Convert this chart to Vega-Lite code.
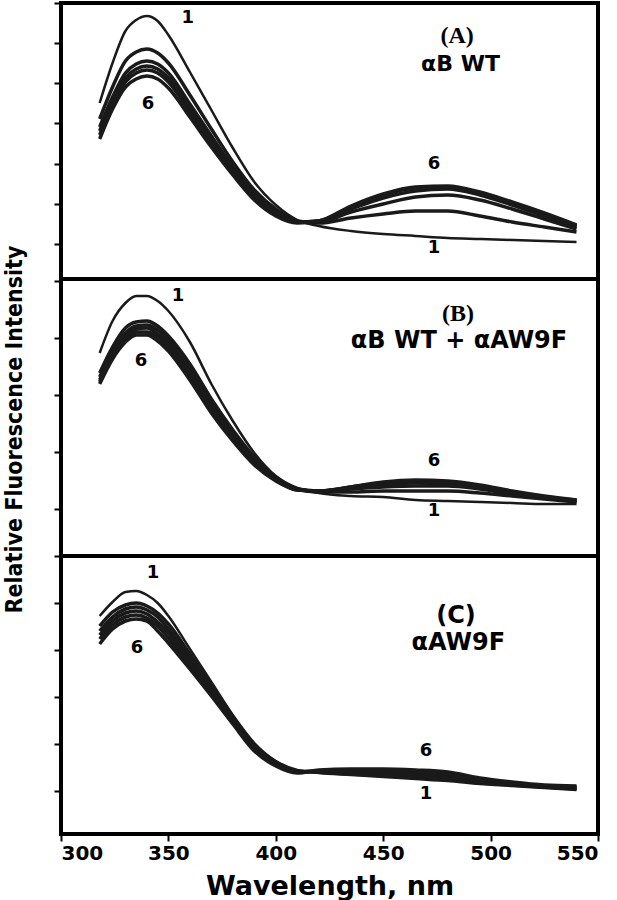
{
"$schema":"https://vega.github.io/schema/vega-lite/v6.json",
"padding":{"left":0,"top":0,"right":0,"bottom":0},
"background":"white",
"spacing":0,
"bounds":"flush",
"config":{"view":{"stroke":"black","strokeWidth":4},"axis":{"domain":false,"grid":false,"tickColor":"black","tickWidth":2,"tickSize":7}},
"datasets":{
"spectra":[
{"p":"A","c":1,"w":318,"v":176},{"p":"A","c":1,"w":324,"v":216},{"p":"A","c":1,"w":330,"v":248},{"p":"A","c":1,"w":335,"v":259},{"p":"A","c":1,"w":340,"v":263},{"p":"A","c":1,"w":345,"v":258},{"p":"A","c":1,"w":350,"v":244},{"p":"A","c":1,"w":360,"v":207},{"p":"A","c":1,"w":370,"v":169},{"p":"A","c":1,"w":380,"v":131},{"p":"A","c":1,"w":390,"v":97},{"p":"A","c":1,"w":400,"v":74},{"p":"A","c":1,"w":410,"v":59},{"p":"A","c":1,"w":420,"v":53},{"p":"A","c":1,"w":435,"v":48},{"p":"A","c":1,"w":450,"v":45},{"p":"A","c":1,"w":465,"v":43},{"p":"A","c":1,"w":480,"v":41},{"p":"A","c":1,"w":495,"v":40},{"p":"A","c":1,"w":510,"v":39},{"p":"A","c":1,"w":525,"v":38},{"p":"A","c":1,"w":540,"v":37},
{"p":"A","c":2,"w":318,"v":160},{"p":"A","c":2,"w":324,"v":192},{"p":"A","c":2,"w":330,"v":218},{"p":"A","c":2,"w":335,"v":227},{"p":"A","c":2,"w":340,"v":230},{"p":"A","c":2,"w":345,"v":226},{"p":"A","c":2,"w":350,"v":216},{"p":"A","c":2,"w":360,"v":184},{"p":"A","c":2,"w":370,"v":150},{"p":"A","c":2,"w":380,"v":117},{"p":"A","c":2,"w":390,"v":89},{"p":"A","c":2,"w":400,"v":70},{"p":"A","c":2,"w":410,"v":58},{"p":"A","c":2,"w":420,"v":56},{"p":"A","c":2,"w":435,"v":61},{"p":"A","c":2,"w":450,"v":65},{"p":"A","c":2,"w":465,"v":68},{"p":"A","c":2,"w":480,"v":68},{"p":"A","c":2,"w":495,"v":63},{"p":"A","c":2,"w":510,"v":57},{"p":"A","c":2,"w":525,"v":52},{"p":"A","c":2,"w":540,"v":47},
{"p":"A","c":3,"w":318,"v":152},{"p":"A","c":3,"w":324,"v":182},{"p":"A","c":3,"w":330,"v":206},{"p":"A","c":3,"w":335,"v":215},{"p":"A","c":3,"w":340,"v":218},{"p":"A","c":3,"w":345,"v":215},{"p":"A","c":3,"w":350,"v":206},{"p":"A","c":3,"w":360,"v":175},{"p":"A","c":3,"w":370,"v":143},{"p":"A","c":3,"w":380,"v":112},{"p":"A","c":3,"w":390,"v":85},{"p":"A","c":3,"w":400,"v":67},{"p":"A","c":3,"w":410,"v":57},{"p":"A","c":3,"w":420,"v":57},{"p":"A","c":3,"w":435,"v":67},{"p":"A","c":3,"w":450,"v":75},{"p":"A","c":3,"w":465,"v":82},{"p":"A","c":3,"w":480,"v":84},{"p":"A","c":3,"w":495,"v":79},{"p":"A","c":3,"w":510,"v":70},{"p":"A","c":3,"w":525,"v":60},{"p":"A","c":3,"w":540,"v":50},
{"p":"A","c":4,"w":318,"v":148},{"p":"A","c":4,"w":324,"v":178},{"p":"A","c":4,"w":330,"v":201},{"p":"A","c":4,"w":335,"v":210},{"p":"A","c":4,"w":340,"v":213},{"p":"A","c":4,"w":345,"v":210},{"p":"A","c":4,"w":350,"v":201},{"p":"A","c":4,"w":360,"v":171},{"p":"A","c":4,"w":370,"v":139},{"p":"A","c":4,"w":380,"v":109},{"p":"A","c":4,"w":390,"v":83},{"p":"A","c":4,"w":400,"v":66},{"p":"A","c":4,"w":410,"v":57},{"p":"A","c":4,"w":420,"v":58},{"p":"A","c":4,"w":435,"v":70},{"p":"A","c":4,"w":450,"v":81},{"p":"A","c":4,"w":465,"v":88},{"p":"A","c":4,"w":480,"v":90},{"p":"A","c":4,"w":495,"v":84},{"p":"A","c":4,"w":510,"v":74},{"p":"A","c":4,"w":525,"v":63},{"p":"A","c":4,"w":540,"v":52},
{"p":"A","c":5,"w":318,"v":144},{"p":"A","c":5,"w":324,"v":174},{"p":"A","c":5,"w":330,"v":197},{"p":"A","c":5,"w":335,"v":206},{"p":"A","c":5,"w":340,"v":209},{"p":"A","c":5,"w":345,"v":206},{"p":"A","c":5,"w":350,"v":197},{"p":"A","c":5,"w":360,"v":167},{"p":"A","c":5,"w":370,"v":136},{"p":"A","c":5,"w":380,"v":107},{"p":"A","c":5,"w":390,"v":81},{"p":"A","c":5,"w":400,"v":65},{"p":"A","c":5,"w":410,"v":57},{"p":"A","c":5,"w":420,"v":58},{"p":"A","c":5,"w":435,"v":72},{"p":"A","c":5,"w":450,"v":84},{"p":"A","c":5,"w":465,"v":91},{"p":"A","c":5,"w":480,"v":92},{"p":"A","c":5,"w":495,"v":86},{"p":"A","c":5,"w":510,"v":76},{"p":"A","c":5,"w":525,"v":65},{"p":"A","c":5,"w":540,"v":53},
{"p":"A","c":6,"w":318,"v":140},{"p":"A","c":6,"w":324,"v":170},{"p":"A","c":6,"w":330,"v":192},{"p":"A","c":6,"w":335,"v":200},{"p":"A","c":6,"w":340,"v":203},{"p":"A","c":6,"w":345,"v":200},{"p":"A","c":6,"w":350,"v":191},{"p":"A","c":6,"w":360,"v":162},{"p":"A","c":6,"w":370,"v":132},{"p":"A","c":6,"w":380,"v":104},{"p":"A","c":6,"w":390,"v":79},{"p":"A","c":6,"w":400,"v":63},{"p":"A","c":6,"w":410,"v":56},{"p":"A","c":6,"w":420,"v":58},{"p":"A","c":6,"w":435,"v":73},{"p":"A","c":6,"w":450,"v":85},{"p":"A","c":6,"w":465,"v":92},{"p":"A","c":6,"w":480,"v":93},{"p":"A","c":6,"w":495,"v":87},{"p":"A","c":6,"w":510,"v":77},{"p":"A","c":6,"w":525,"v":66},{"p":"A","c":6,"w":540,"v":54},
{"p":"B","c":1,"w":318,"v":201},{"p":"B","c":1,"w":324,"v":233},{"p":"B","c":1,"w":330,"v":251},{"p":"B","c":1,"w":335,"v":258},{"p":"B","c":1,"w":340,"v":258},{"p":"B","c":1,"w":345,"v":253},{"p":"B","c":1,"w":350,"v":243},{"p":"B","c":1,"w":360,"v":212},{"p":"B","c":1,"w":370,"v":170},{"p":"B","c":1,"w":380,"v":133},{"p":"B","c":1,"w":390,"v":101},{"p":"B","c":1,"w":400,"v":78},{"p":"B","c":1,"w":410,"v":66},{"p":"B","c":1,"w":420,"v":61},{"p":"B","c":1,"w":435,"v":58},{"p":"B","c":1,"w":450,"v":57},{"p":"B","c":1,"w":465,"v":54},{"p":"B","c":1,"w":480,"v":53},{"p":"B","c":1,"w":495,"v":52},{"p":"B","c":1,"w":510,"v":51},{"p":"B","c":1,"w":525,"v":50},{"p":"B","c":1,"w":540,"v":50},
{"p":"B","c":2,"w":318,"v":181},{"p":"B","c":2,"w":324,"v":207},{"p":"B","c":2,"w":330,"v":226},{"p":"B","c":2,"w":335,"v":232},{"p":"B","c":2,"w":340,"v":233},{"p":"B","c":2,"w":345,"v":228},{"p":"B","c":2,"w":350,"v":218},{"p":"B","c":2,"w":360,"v":190},{"p":"B","c":2,"w":370,"v":155},{"p":"B","c":2,"w":380,"v":124},{"p":"B","c":2,"w":390,"v":97},{"p":"B","c":2,"w":400,"v":77},{"p":"B","c":2,"w":410,"v":65},{"p":"B","c":2,"w":420,"v":62},{"p":"B","c":2,"w":435,"v":62},{"p":"B","c":2,"w":450,"v":63},{"p":"B","c":2,"w":465,"v":63},{"p":"B","c":2,"w":480,"v":63},{"p":"B","c":2,"w":495,"v":61},{"p":"B","c":2,"w":510,"v":58},{"p":"B","c":2,"w":525,"v":55},{"p":"B","c":2,"w":540,"v":52},
{"p":"B","c":3,"w":318,"v":177},{"p":"B","c":3,"w":324,"v":203},{"p":"B","c":3,"w":330,"v":221},{"p":"B","c":3,"w":335,"v":228},{"p":"B","c":3,"w":340,"v":229},{"p":"B","c":3,"w":345,"v":224},{"p":"B","c":3,"w":350,"v":214},{"p":"B","c":3,"w":360,"v":185},{"p":"B","c":3,"w":370,"v":151},{"p":"B","c":3,"w":380,"v":121},{"p":"B","c":3,"w":390,"v":95},{"p":"B","c":3,"w":400,"v":76},{"p":"B","c":3,"w":410,"v":65},{"p":"B","c":3,"w":420,"v":63},{"p":"B","c":3,"w":435,"v":65},{"p":"B","c":3,"w":450,"v":67},{"p":"B","c":3,"w":465,"v":68},{"p":"B","c":3,"w":480,"v":68},{"p":"B","c":3,"w":495,"v":65},{"p":"B","c":3,"w":510,"v":60},{"p":"B","c":3,"w":525,"v":56},{"p":"B","c":3,"w":540,"v":53},
{"p":"B","c":4,"w":318,"v":174},{"p":"B","c":4,"w":324,"v":200},{"p":"B","c":4,"w":330,"v":218},{"p":"B","c":4,"w":335,"v":225},{"p":"B","c":4,"w":340,"v":226},{"p":"B","c":4,"w":345,"v":220},{"p":"B","c":4,"w":350,"v":210},{"p":"B","c":4,"w":360,"v":182},{"p":"B","c":4,"w":370,"v":148},{"p":"B","c":4,"w":380,"v":118},{"p":"B","c":4,"w":390,"v":93},{"p":"B","c":4,"w":400,"v":75},{"p":"B","c":4,"w":410,"v":65},{"p":"B","c":4,"w":420,"v":63},{"p":"B","c":4,"w":435,"v":66},{"p":"B","c":4,"w":450,"v":69},{"p":"B","c":4,"w":465,"v":71},{"p":"B","c":4,"w":480,"v":70},{"p":"B","c":4,"w":495,"v":67},{"p":"B","c":4,"w":510,"v":61},{"p":"B","c":4,"w":525,"v":57},{"p":"B","c":4,"w":540,"v":53},
{"p":"B","c":5,"w":318,"v":172},{"p":"B","c":5,"w":324,"v":198},{"p":"B","c":5,"w":330,"v":215},{"p":"B","c":5,"w":335,"v":222},{"p":"B","c":5,"w":340,"v":222},{"p":"B","c":5,"w":345,"v":217},{"p":"B","c":5,"w":350,"v":207},{"p":"B","c":5,"w":360,"v":178},{"p":"B","c":5,"w":370,"v":145},{"p":"B","c":5,"w":380,"v":116},{"p":"B","c":5,"w":390,"v":91},{"p":"B","c":5,"w":400,"v":74},{"p":"B","c":5,"w":410,"v":64},{"p":"B","c":5,"w":420,"v":63},{"p":"B","c":5,"w":435,"v":67},{"p":"B","c":5,"w":450,"v":71},{"p":"B","c":5,"w":465,"v":73},{"p":"B","c":5,"w":480,"v":72},{"p":"B","c":5,"w":495,"v":68},{"p":"B","c":5,"w":510,"v":62},{"p":"B","c":5,"w":525,"v":57},{"p":"B","c":5,"w":540,"v":54},
{"p":"B","c":6,"w":318,"v":170},{"p":"B","c":6,"w":324,"v":195},{"p":"B","c":6,"w":330,"v":212},{"p":"B","c":6,"w":335,"v":219},{"p":"B","c":6,"w":340,"v":219},{"p":"B","c":6,"w":345,"v":213},{"p":"B","c":6,"w":350,"v":203},{"p":"B","c":6,"w":360,"v":174},{"p":"B","c":6,"w":370,"v":141},{"p":"B","c":6,"w":380,"v":113},{"p":"B","c":6,"w":390,"v":89},{"p":"B","c":6,"w":400,"v":73},{"p":"B","c":6,"w":410,"v":64},{"p":"B","c":6,"w":420,"v":63},{"p":"B","c":6,"w":435,"v":67},{"p":"B","c":6,"w":450,"v":72},{"p":"B","c":6,"w":465,"v":74},{"p":"B","c":6,"w":480,"v":73},{"p":"B","c":6,"w":495,"v":69},{"p":"B","c":6,"w":510,"v":63},{"p":"B","c":6,"w":525,"v":58},{"p":"B","c":6,"w":540,"v":54},
{"p":"C","c":1,"w":318,"v":218},{"p":"C","c":1,"w":324,"v":232},{"p":"C","c":1,"w":330,"v":242},{"p":"C","c":1,"w":335,"v":243},{"p":"C","c":1,"w":340,"v":239},{"p":"C","c":1,"w":345,"v":231},{"p":"C","c":1,"w":350,"v":218},{"p":"C","c":1,"w":360,"v":185},{"p":"C","c":1,"w":370,"v":152},{"p":"C","c":1,"w":380,"v":119},{"p":"C","c":1,"w":390,"v":91},{"p":"C","c":1,"w":400,"v":73},{"p":"C","c":1,"w":410,"v":64},{"p":"C","c":1,"w":420,"v":61},{"p":"C","c":1,"w":435,"v":59},{"p":"C","c":1,"w":450,"v":57},{"p":"C","c":1,"w":465,"v":55},{"p":"C","c":1,"w":480,"v":53},{"p":"C","c":1,"w":495,"v":50},{"p":"C","c":1,"w":510,"v":48},{"p":"C","c":1,"w":525,"v":46},{"p":"C","c":1,"w":540,"v":44},
{"p":"C","c":2,"w":318,"v":208},{"p":"C","c":2,"w":324,"v":222},{"p":"C","c":2,"w":330,"v":229},{"p":"C","c":2,"w":335,"v":231},{"p":"C","c":2,"w":340,"v":228},{"p":"C","c":2,"w":345,"v":221},{"p":"C","c":2,"w":350,"v":210},{"p":"C","c":2,"w":360,"v":180},{"p":"C","c":2,"w":370,"v":148},{"p":"C","c":2,"w":380,"v":117},{"p":"C","c":2,"w":390,"v":89},{"p":"C","c":2,"w":400,"v":72},{"p":"C","c":2,"w":410,"v":63},{"p":"C","c":2,"w":420,"v":62},{"p":"C","c":2,"w":435,"v":60},{"p":"C","c":2,"w":450,"v":59},{"p":"C","c":2,"w":465,"v":57},{"p":"C","c":2,"w":480,"v":55},{"p":"C","c":2,"w":495,"v":51},{"p":"C","c":2,"w":510,"v":49},{"p":"C","c":2,"w":525,"v":47},{"p":"C","c":2,"w":540,"v":45},
{"p":"C","c":3,"w":318,"v":203},{"p":"C","c":3,"w":324,"v":217},{"p":"C","c":3,"w":330,"v":225},{"p":"C","c":3,"w":335,"v":227},{"p":"C","c":3,"w":340,"v":224},{"p":"C","c":3,"w":345,"v":217},{"p":"C","c":3,"w":350,"v":205},{"p":"C","c":3,"w":360,"v":176},{"p":"C","c":3,"w":370,"v":145},{"p":"C","c":3,"w":380,"v":115},{"p":"C","c":3,"w":390,"v":88},{"p":"C","c":3,"w":400,"v":71},{"p":"C","c":3,"w":410,"v":63},{"p":"C","c":3,"w":420,"v":62},{"p":"C","c":3,"w":435,"v":61},{"p":"C","c":3,"w":450,"v":60},{"p":"C","c":3,"w":465,"v":58},{"p":"C","c":3,"w":480,"v":57},{"p":"C","c":3,"w":495,"v":52},{"p":"C","c":3,"w":510,"v":50},{"p":"C","c":3,"w":525,"v":47},{"p":"C","c":3,"w":540,"v":46},
{"p":"C","c":4,"w":318,"v":199},{"p":"C","c":4,"w":324,"v":213},{"p":"C","c":4,"w":330,"v":221},{"p":"C","c":4,"w":335,"v":223},{"p":"C","c":4,"w":340,"v":220},{"p":"C","c":4,"w":345,"v":212},{"p":"C","c":4,"w":350,"v":201},{"p":"C","c":4,"w":360,"v":172},{"p":"C","c":4,"w":370,"v":143},{"p":"C","c":4,"w":380,"v":113},{"p":"C","c":4,"w":390,"v":86},{"p":"C","c":4,"w":400,"v":70},{"p":"C","c":4,"w":410,"v":62},{"p":"C","c":4,"w":420,"v":63},{"p":"C","c":4,"w":435,"v":62},{"p":"C","c":4,"w":450,"v":62},{"p":"C","c":4,"w":465,"v":60},{"p":"C","c":4,"w":480,"v":59},{"p":"C","c":4,"w":495,"v":54},{"p":"C","c":4,"w":510,"v":51},{"p":"C","c":4,"w":525,"v":48},{"p":"C","c":4,"w":540,"v":46},
{"p":"C","c":5,"w":318,"v":195},{"p":"C","c":5,"w":324,"v":209},{"p":"C","c":5,"w":330,"v":217},{"p":"C","c":5,"w":335,"v":219},{"p":"C","c":5,"w":340,"v":216},{"p":"C","c":5,"w":345,"v":208},{"p":"C","c":5,"w":350,"v":196},{"p":"C","c":5,"w":360,"v":169},{"p":"C","c":5,"w":370,"v":140},{"p":"C","c":5,"w":380,"v":112},{"p":"C","c":5,"w":390,"v":85},{"p":"C","c":5,"w":400,"v":69},{"p":"C","c":5,"w":410,"v":62},{"p":"C","c":5,"w":420,"v":63},{"p":"C","c":5,"w":435,"v":63},{"p":"C","c":5,"w":450,"v":63},{"p":"C","c":5,"w":465,"v":62},{"p":"C","c":5,"w":480,"v":60},{"p":"C","c":5,"w":495,"v":55},{"p":"C","c":5,"w":510,"v":51},{"p":"C","c":5,"w":525,"v":48},{"p":"C","c":5,"w":540,"v":47},
{"p":"C","c":6,"w":318,"v":190},{"p":"C","c":6,"w":324,"v":205},{"p":"C","c":6,"w":330,"v":213},{"p":"C","c":6,"w":335,"v":215},{"p":"C","c":6,"w":340,"v":213},{"p":"C","c":6,"w":345,"v":203},{"p":"C","c":6,"w":350,"v":191},{"p":"C","c":6,"w":360,"v":165},{"p":"C","c":6,"w":370,"v":138},{"p":"C","c":6,"w":380,"v":110},{"p":"C","c":6,"w":390,"v":83},{"p":"C","c":6,"w":400,"v":68},{"p":"C","c":6,"w":410,"v":61},{"p":"C","c":6,"w":420,"v":64},{"p":"C","c":6,"w":435,"v":65},{"p":"C","c":6,"w":450,"v":65},{"p":"C","c":6,"w":465,"v":64},{"p":"C","c":6,"w":480,"v":62},{"p":"C","c":6,"w":495,"v":56},{"p":"C","c":6,"w":510,"v":52},{"p":"C","c":6,"w":525,"v":49},{"p":"C","c":6,"w":540,"v":48}
],
"labels":[
{"p":"A","t":"1","w":359,"v":261,"f":"num"},{"p":"A","t":"6","w":340.5,"v":175,"f":"num"},{"p":"A","t":"6","w":473.6,"v":115,"f":"num"},{"p":"A","t":"1","w":473.6,"v":31,"f":"num"},{"p":"A","t":"(A)","w":484.4,"v":243,"f":"serif"},{"p":"A","t":"αB WT","w":486,"v":215,"f":"sans"},
{"p":"B","t":"1","w":354.5,"v":258,"f":"num"},{"p":"B","t":"6","w":337.2,"v":193,"f":"num"},{"p":"B","t":"6","w":473.6,"v":93,"f":"num"},{"p":"B","t":"1","w":473.6,"v":43,"f":"num"},{"p":"B","t":"(B)","w":484.8,"v":240,"f":"serif"},{"p":"B","t":"αB WT + αAW9F","w":485.3,"v":213,"f":"sans"},
{"p":"C","t":"1","w":342.8,"v":261,"f":"num"},{"p":"C","t":"6","w":335.4,"v":186,"f":"num"},{"p":"C","t":"6","w":469.9,"v":83,"f":"num"},{"p":"C","t":"1","w":469.9,"v":40,"f":"num"},{"p":"C","t":"(C)","w":483.9,"v":218,"f":"sans"},{"p":"C","t":"αAW9F","w":485,"v":191,"f":"sans"}
]
},
"vconcat":[
{"width":537,"height":276,
"encoding":{
"x":{"field":"w","type":"quantitative","scale":{"domain":[300,550],"nice":false,"zero":false},"axis":null},
"y":{"field":"v","type":"quantitative","scale":{"domain":[0,276],"nice":false,"zero":false},"axis":{"values":[35,75,115,156,196,236,276],"labels":false,"title":null}}},
"layer":[
{"data":{"name":"spectra"},"transform":[{"filter":"datum.p=='A'"}],"mark":{"type":"line","color":"#1a1a1a","interpolate":"monotone"},"encoding":{"detail":{"field":"c"},"strokeWidth":{"condition":{"test":"datum.c==1","value":2.5},"value":3.5}}},
{"data":{"name":"labels"},"transform":[{"filter":"datum.p=='A' && datum.f=='num'"}],"mark":{"type":"text","font":"DejaVu Sans","fontWeight":"bold","fontSize":18,"color":"black","align":"center","baseline":"middle"},"encoding":{"text":{"field":"t"}}},
{"data":{"name":"labels"},"transform":[{"filter":"datum.p=='A' && datum.f=='sans'"}],"mark":{"type":"text","font":"DejaVu Sans","fontWeight":"bold","fontSize":22,"color":"black","align":"center","baseline":"middle"},"encoding":{"text":{"field":"t"}}},
{"data":{"name":"labels"},"transform":[{"filter":"datum.p=='A' && datum.f=='serif'"}],"mark":{"type":"text","font":"Liberation Serif","fontWeight":"bold","fontSize":24,"color":"black","align":"center","baseline":"middle"},"encoding":{"text":{"field":"t"}}}
]},
{"width":537,"height":277,
"encoding":{
"x":{"field":"w","type":"quantitative","scale":{"domain":[300,550],"nice":false,"zero":false},"axis":null},
"y":{"field":"v","type":"quantitative","scale":{"domain":[-2,275],"nice":false,"zero":false},"axis":{"values":[45,102,159,216,273],"labels":false,"title":"Relative Fluorescence Intensity","titleFont":"DejaVu Sans Condensed","titleFontWeight":"bold","titleFontSize":23,"titleColor":"black","titlePadding":27,"titleY":150}}},
"layer":[
{"data":{"name":"spectra"},"transform":[{"filter":"datum.p=='B'"}],"mark":{"type":"line","color":"#1a1a1a","interpolate":"monotone"},"encoding":{"detail":{"field":"c"},"strokeWidth":{"condition":{"test":"datum.c==1","value":2.5},"value":3.5}}},
{"data":{"name":"labels"},"transform":[{"filter":"datum.p=='B' && datum.f=='num'"}],"mark":{"type":"text","font":"DejaVu Sans","fontWeight":"bold","fontSize":18,"color":"black","align":"center","baseline":"middle"},"encoding":{"text":{"field":"t"}}},
{"data":{"name":"labels"},"transform":[{"filter":"datum.p=='B' && datum.f=='sans'"}],"mark":{"type":"text","font":"DejaVu Sans","fontWeight":"bold","fontSize":24,"color":"black","align":"center","baseline":"middle"},"encoding":{"text":{"field":"t"}}},
{"data":{"name":"labels"},"transform":[{"filter":"datum.p=='B' && datum.f=='serif'"}],"mark":{"type":"text","font":"Liberation Serif","fontWeight":"bold","fontSize":24,"color":"black","align":"center","baseline":"middle"},"encoding":{"text":{"field":"t"}}}
]},
{"width":537,"height":278,
"encoding":{
"x":{"field":"w","type":"quantitative","scale":{"domain":[300,550],"nice":false,"zero":false},"axis":{"values":[300,350,400,450,500,550],"labelFont":"DejaVu Sans","labelFontWeight":"bold","labelFontSize":20,"labelColor":"black","labelPadding":2,"title":"Wavelength, nm","titleFont":"DejaVu Sans","titleFontWeight":"bold","titleFontSize":27,"titleColor":"black","titlePadding":10}},
"y":{"field":"v","type":"quantitative","scale":{"domain":[0,278],"nice":false,"zero":false},"axis":{"values":[43,90,137,184,231,278],"labels":false,"title":null}}},
"layer":[
{"data":{"name":"spectra"},"transform":[{"filter":"datum.p=='C'"}],"mark":{"type":"line","color":"#1a1a1a","interpolate":"monotone"},"encoding":{"detail":{"field":"c"},"strokeWidth":{"condition":{"test":"datum.c==1","value":2.5},"value":3.5}}},
{"data":{"name":"labels"},"transform":[{"filter":"datum.p=='C' && datum.f=='num'"}],"mark":{"type":"text","font":"DejaVu Sans","fontWeight":"bold","fontSize":18,"color":"black","align":"center","baseline":"middle"},"encoding":{"text":{"field":"t"}}},
{"data":{"name":"labels"},"transform":[{"filter":"datum.p=='C' && datum.f=='sans'"}],"mark":{"type":"text","font":"DejaVu Sans","fontWeight":"bold","fontSize":24,"color":"black","align":"center","baseline":"middle"},"encoding":{"text":{"field":"t"}}}
]}
]
}
